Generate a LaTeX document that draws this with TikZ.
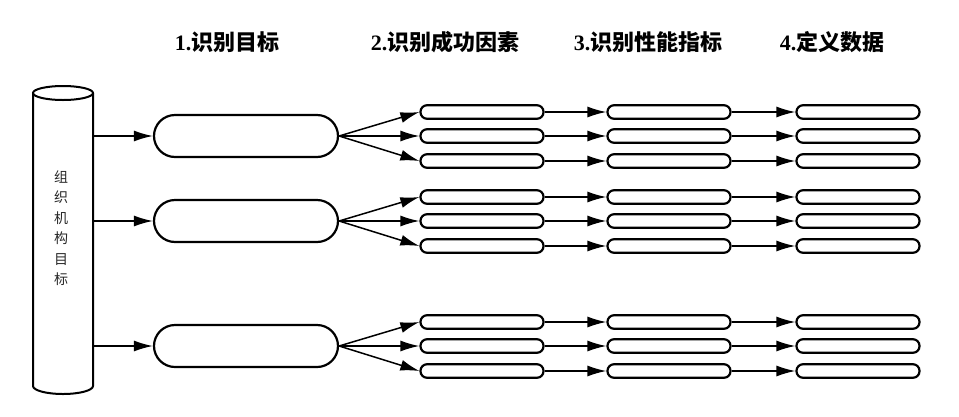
\documentclass[tikz,border=0pt]{standalone}
\usepackage{fontspec}
\setmainfont{Liberation Serif}
\newfontfamily\cjk{Noto Sans CJK SC}
\usetikzlibrary{arrows.meta,positioning}

\tikzset{
  goalbox/.style={draw,line width=2.2pt,rounded corners=21pt,minimum width=184pt,minimum height=42pt,inner sep=0pt},
  itembox/.style={draw,line width=2.2pt,rounded corners=6.5pt,minimum width=123pt,minimum height=13.5pt,inner sep=0pt},
  flow/.style={line width=1.5pt,-{Latex[length=19pt,width=11pt]}},
  head/.style={font=\cjk\bfseries\fontsize{22}{24}\selectfont}
}

\begin{document}
\begin{tikzpicture}[x=1pt,y=-1pt]
\useasboundingbox (0,0) rectangle (959,416);
% headings
\node[head] (h1) at (227,42) {{\rmfamily 1.}识别目标};
\node[head] (h2) at (445,42) {{\rmfamily 2.}识别成功因素};
\node[head] (h3) at (648,42) {{\rmfamily 3.}识别性能指标};
\node[head] (h4) at (832,42) {{\rmfamily 4.}定义数据};
% organisation goals
\draw[line width=2pt] (33,93) -- (33,386) arc[start angle=180,end angle=0,x radius=30,y radius=8] -- (93,93);
\draw[line width=2pt] (63,93) ellipse[x radius=30,y radius=7];
\node[align=center,text=black!85,font=\cjk\fontsize{14}{20.5}\selectfont] (org) at (61,228) {组\\织\\机\\构\\目\\标};
\foreach \i/\y in {1/136,2/221,3/346} {
  \coordinate (src\i) at (93,\y);
  \node[goalbox] (goal\i) at (246,\y) {};
  \draw[flow] (src\i) -- (goal\i);
  \foreach \j/\d in {1/-24,2/0,3/25} {
    \node[itembox] (csf\i\j) at (482,\y+\d) {};
    \node[itembox] (kpi\i\j) at (669,\y+\d) {};
    \node[itembox] (data\i\j) at (858,\y+\d) {};
    \draw[flow] (goal\i.east) -- (csf\i\j.west);
    \draw[flow] (csf\i\j) -- (kpi\i\j);
    \draw[flow] (kpi\i\j) -- (data\i\j);
  }
}
\end{tikzpicture}
\end{document}
